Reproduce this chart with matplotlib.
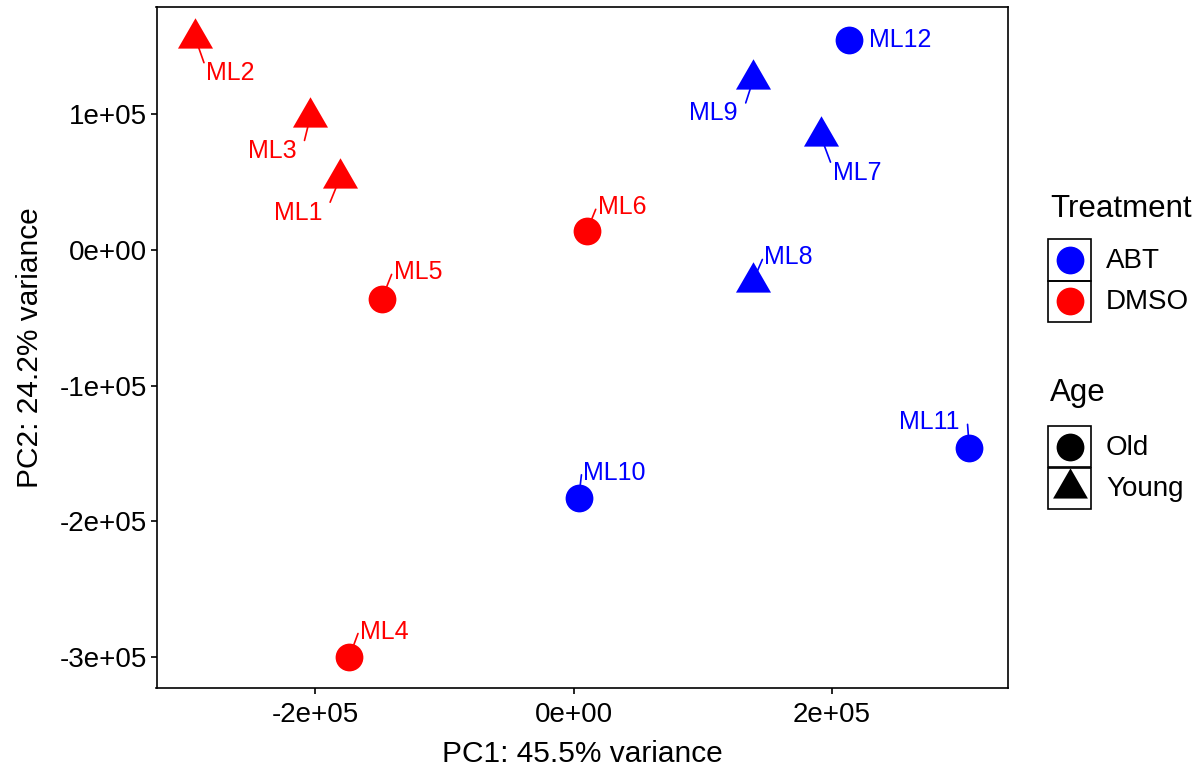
import matplotlib
matplotlib.use("Agg")
import matplotlib.pyplot as plt
from matplotlib.path import Path
from matplotlib.lines import Line2D
from matplotlib.patches import Rectangle

plt.rcParams['font.family'] = ['Liberation Sans', 'DejaVu Sans']

# PCA scores
samples = ['ML1', 'ML2', 'ML3', 'ML4', 'ML5', 'ML6',
           'ML7', 'ML8', 'ML9', 'ML10', 'ML11', 'ML12']
pc1 = [-1.81e5, -2.93e5, -2.04e5, -1.737e5, -1.485e5, 0.103e5,
       1.913e5, 1.386e5, 1.392e5, 0.039e5, 3.063e5, 2.13e5]
pc2 = [0.53e5, 1.566e5, 0.978e5, -3.0e5, -0.36e5, 0.142e5,
       0.84e5, -0.235e5, 1.262e5, -1.83e5, -1.458e5, 1.546e5]
treatment = ['DMSO'] * 6 + ['ABT'] * 6
age = ['Young', 'Young', 'Young', 'Old', 'Old', 'Old',
       'Young', 'Young', 'Young', 'Old', 'Old', 'Old']

treatment_levels = ['ABT', 'DMSO']
age_levels = ['Old', 'Young']
x_ticks = [-2e5, 0, 2e5]
x_ticklabels = ['-2e+05', '0e+00', '2e+05']
y_ticks = [-3e5, -2e5, -1e5, 0, 1e5]
y_ticklabels = ['-3e+05', '-2e+05', '-1e+05', '0e+00', '1e+05']

# label placement (pixel offsets, like ggrepel output)
label_offsets = [(-42, -32), (35, -33), (-38, -31), (35, 28), (36, 29), (35, 26),
                 (36, -34), (36, 27), (-40, -32), (36, 28), (-40, 28), (51, 3)]

colors = {'ABT': '#0000FF', 'DMSO': '#FF0000'}
tri = Path([(-1, -0.577), (1, -0.577), (0, 1.155), (-1, -0.577)],
           [Path.MOVETO, Path.LINETO, Path.LINETO, Path.CLOSEPOLY])
markers = {'Old': 'o', 'Young': tri}
sizes = {'Old': 400, 'Young': 850}
msizes = {'Old': 20, 'Young': 29}

W, H = 1202, 770
fig = plt.figure(figsize=(W / 100, H / 100), dpi=100)
ax = fig.add_axes([156.5 / W, 1 - 688 / H, (1008 - 156.5) / W, (688 - 6.7) / H])

for i, name in enumerate(samples):
    ax.scatter(pc1[i], pc2[i], s=sizes[age[i]], marker=markers[age[i]],
               color=colors[treatment[i]], linewidths=0, zorder=3)

ax.margins(0.05)
ax.set_xticks(x_ticks)
ax.set_xticklabels(x_ticklabels)
ax.set_yticks(y_ticks)
ax.set_yticklabels(y_ticklabels)
ax.tick_params(labelsize=20, length=4, width=1.2, color='black', pad=3)
ax.tick_params(axis='x', pad=6)
for sp in ax.spines.values():
    sp.set_linewidth(1.2)
    sp.set_color('black')
ax.set_xlabel('PC1: 45.5% variance', fontsize=21.5, labelpad=9)
ax.set_ylabel('PC2: 24.2% variance', fontsize=21.5, labelpad=11)

# first pass: plain labels, measured to find where the segment meets the box
fig.canvas.draw()
renderer = fig.canvas.get_renderer()
for i, name in enumerate(samples):
    c = colors[treatment[i]]
    dx, dy = label_offsets[i]
    dy = dy - 2.5  # va='center' includes descent, shift glyphs to match
    t = ax.annotate(name, (pc1[i], pc2[i]), xytext=(dx, dy), textcoords='offset pixels',
                    ha='center', va='center', fontsize=18, color=c, zorder=2)
    if abs(dy) < 10:
        continue
    bb = t.get_window_extent(renderer)
    px, py = ax.transData.transform((pc1[i], pc2[i]))
    x0, x1 = bb.x0 - 2, bb.x1 + 8
    y0, y1 = bb.y0 + 10, bb.y1 - 1.5
    cx = min(max(px, x0), x1)
    cy = min(max(py, y0), y1)
    rel = ((cx - bb.x0) / bb.width, (cy - bb.y0) / bb.height)
    t.remove()
    ax.annotate(name, (pc1[i], pc2[i]), xytext=(dx, dy), textcoords='offset pixels',
                ha='center', va='center', fontsize=18, color=c, zorder=2,
                arrowprops=dict(arrowstyle='-', color=c, lw=1.2, relpos=rel,
                                patchA=None, shrinkA=0, shrinkB=0))

# legends (drawn by hand so each key gets its own box)
def fx(px):
    return px / W

def fy(py):
    return 1 - py / H

def legend_block(title, title_y, levels, top, key_color, key_marker):
    fig.text(fx(1050), fy(title_y), title, fontsize=22.5, va='center', ha='left')
    for j, lev in enumerate(levels):
        y0 = top + j * 41.5
        fig.add_artist(Rectangle((fx(1048), fy(y0 + 41.5)), 43 / W, 41.5 / H,
                                 transform=fig.transFigure, fill=False,
                                 edgecolor='black', lw=1.2))
        fig.add_artist(Line2D([fx(1069.5)], [fy(y0 + 20.75)], marker=key_marker(lev),
                              markersize=msizes.get(lev, 20), color=key_color(lev),
                              markeredgewidth=0, linestyle='none',
                              transform=fig.transFigure))
        fig.text(fx(1106), fy(y0 + 21.5), lev, fontsize=20, va='center', ha='left')

legend_block('Treatment', 209, treatment_levels, 239,
             lambda l: colors[l], lambda l: 'o')
legend_block('Age', 393, age_levels, 426,
             lambda l: 'black', lambda l: markers[l])

fig.savefig('out.png', dpi=100)
